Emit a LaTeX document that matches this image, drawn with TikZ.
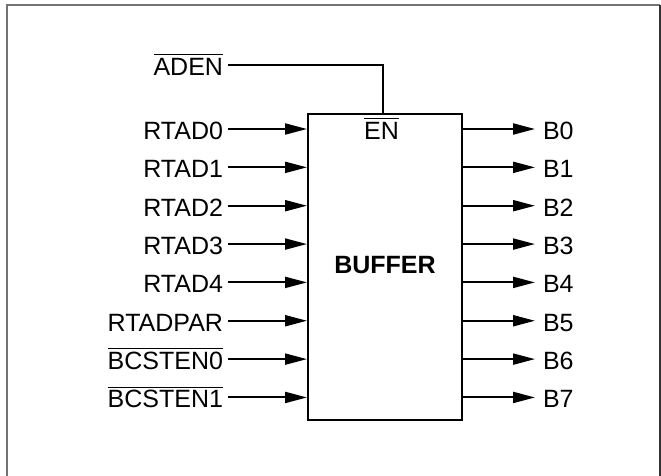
\documentclass[tikz,border=0pt]{standalone}
\usepackage{fontspec}
\setmainfont{Liberation Sans}
\usetikzlibrary{arrows.meta}
\newcommand\ovl[1]{\leavevmode\vbox{\hrule height 1pt\kern 3pt\hbox{#1}}}
\tikzset{
  wire/.style={line width=2pt},
  arr/.style={wire,-{Triangle[length=22pt,width=11pt]}},
  lblfont/.style={font=\fontsize{25}{29}\selectfont},
  inlbl/.style={lblfont,anchor=base east,inner xsep=2.5pt,inner ysep=0pt,outer sep=2.5pt},
  outlbl/.style={lblfont,anchor=base west,inner xsep=4pt,inner ysep=0pt,outer sep=4pt},
  frame/.style={line width=1.6pt,draw=black!55},
}
\begin{document}
\begin{tikzpicture}[x=1pt,y=-1pt]
\useasboundingbox (0,0) rectangle (661,475);
% frame
\draw[frame] (7,480) -- (7,5) -- (660,5);
\draw[line width=1.6pt,draw=black!80] (660,5) -- (660,480);
% buffer box
\node[draw,line width=2pt,minimum width=154pt,minimum height=306pt,inner sep=0pt,anchor=north west] (box) at (307,113) {};
\node[font=\fontsize{25}{29}\selectfont\bfseries,inner sep=0pt] (buf) at (385,265) {BUFFER};
\node[lblfont,anchor=base,inner sep=0pt] (en) at (381.5,139.5) {\ovl{EN}};
% ADEN
\node[inlbl] (aden) at (228,75.5) {\ovl{ADEN}};
\coordinate (enpin) at (383.3,113);
\draw[wire] (aden.east |- 0,65) -| (enpin);
% inputs
\foreach \lbl [count=\i from 0] in {RTAD0,RTAD1,RTAD2,RTAD3,RTAD4,RTADPAR,\ovl{BCSTEN0},\ovl{BCSTEN1}}{
  \pgfmathsetmacro\yy{129+38.35*\i}
  \coordinate (pin\i) at (307,\yy);
  \node[inlbl] (in\i) at (228,\yy+10.5) {\lbl};
  \draw[arr] (in\i.east |- pin\i) -- (pin\i);
}
% outputs
\foreach \i in {0,...,7}{
  \pgfmathsetmacro\yy{129+38.35*\i}
  \coordinate (opin\i) at (461,\yy);
  \node[outlbl] (out\i) at (535,\yy+10.5) {B\i};
  \draw[arr] (opin\i) -- (out\i.west |- opin\i);
}
\end{tikzpicture}
\end{document}
